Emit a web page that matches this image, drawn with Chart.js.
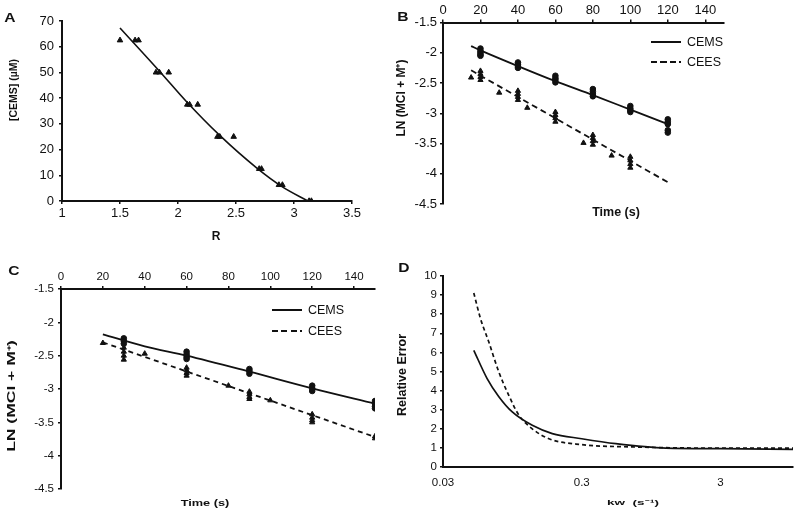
<!DOCTYPE html>
<html>
<head>
<meta charset="utf-8">
<script src="https://cdn.jsdelivr.net/npm/chart.js@4.4.1/dist/chart.umd.min.js"></script>
<style>
body{margin:0;background:#fff;}
#fig{position:relative;width:800px;height:511px;overflow:hidden;font-family:"Liberation Sans",Arial,sans-serif;color:#111;}
#fig canvas{position:absolute;}
.lbl{position:absolute;white-space:pre;line-height:1;}
.leg{position:absolute;height:2px;width:30px;}
.solid{background:#111;}
.dash{background:repeating-linear-gradient(to right,#111 0 6px,transparent 6px 9.5px);}
</style>
</head>
<body>
<div id="fig">
  <canvas id="cA" width="400" height="255" style="left:0;top:0"></canvas>
  <canvas id="cB" width="400" height="255" style="left:400px;top:0"></canvas>
  <canvas id="cC" width="400" height="256" style="left:0;top:255px"></canvas>
  <canvas id="cD" width="400" height="256" style="left:400px;top:255px"></canvas>
</div>
<script>
// ---- panel A : calibration, [CEMS] vs R
const aR       = [1.50,1.63,1.66,1.81,1.84,1.92,2.08,2.10,2.17,2.34,2.36,2.48,2.70,2.72,2.87,2.90,3.13,3.15];
const aConc    = [62.5,62.5,62.5,50,50,50,37.5,37.5,37.5,25,25,25,12.5,12.5,6.25,6.25,0,0];
const aFitR    = [1.50,1.85,2.07,2.36,2.68,2.90,3.12];
const aFitConc = [67.3,50.0,38.8,25.5,12.8,5.5,0];

// ---- panel B : LN vs time
const bCemsT = [20,20,20,20,20, 40,40,40,40, 60,60,60,60, 80,80,80,80, 100,100,100,100, 120,120,120,120,120];
const bCemsY = [-1.93,-1.97,-2.00,-2.03,-2.05, -2.16,-2.19,-2.22,-2.25, -2.38,-2.42,-2.45,-2.49,
                -2.60,-2.64,-2.68,-2.72, -2.88,-2.92,-2.95,-2.98, -3.10,-3.14,-3.18,-3.28,-3.32];
const bCeesT = [15, 20,20,20,20, 30, 40,40,40,40, 45, 60,60,60,60, 75, 80,80,80,80, 90, 100,100,100,100];
const bCeesY = [-2.41, -2.30,-2.35,-2.40,-2.45, -2.66, -2.63,-2.68,-2.73,-2.78, -2.91, -2.98,-3.03,-3.08,-3.14,
                -3.49, -3.36,-3.41,-3.46,-3.52, -3.70, -3.72,-3.78,-3.84,-3.90];
const bCemsFitT = [15,20,40,60,80,100,120];
const bCemsFitY = [-1.89,-1.96,-2.22,-2.47,-2.70,-2.94,-3.18];
const bCeesFitT = [15,120];
const bCeesFitY = [-2.29,-4.14];

// ---- panel C : LN vs time
const cCemsT = [30,30,30, 60,60,60,60, 90,90,90, 120,120,120, 150,150,150,150];
const cCemsY = [-2.24,-2.28,-2.32, -2.44,-2.48,-2.52,-2.55, -2.70,-2.73,-2.77, -2.95,-2.99,-3.03, -3.18,-3.22,-3.26,-3.29];
const cCeesT = [20, 30,30,30,30, 40, 60,60,60,60, 80, 90,90,90,90, 100, 120,120,120,120, 150,150];
const cCeesY = [-2.31, -2.38,-2.44,-2.50,-2.56, -2.47, -2.68,-2.72,-2.76,-2.80, -2.95, -3.04,-3.08,-3.12,-3.15,
                -3.17, -3.38,-3.43,-3.47,-3.50, -3.71,-3.74];
const cCemsFitT = [20,40,60,90,120,150];
const cCemsFitY = [-2.18,-2.36,-2.50,-2.74,-2.99,-3.22];
const cCeesFitT = [20,150];
const cCeesFitY = [-2.30,-3.72];

// ---- panel D : relative error vs kw
const dKwSolid  = [0.05,0.0624,0.0758,0.0947,0.132,0.184,0.3,0.528,1.21,3,10];
const dErrSolid = [6.11,4.63,3.68,2.88,2.18,1.75,1.48,1.22,0.99,0.96,0.92];
const dKwDash   = [0.05,0.0559,0.0642,0.0758,0.0894,0.106,0.132,0.174,0.3,0.7,3,10];
const dErrDash  = [9.11,7.77,6.54,4.97,3.75,2.70,2.00,1.48,1.17,1.05,0.99,0.99];
const dTicks    = [0.03,0.3,3];

const INK = "#111";
Chart.defaults.color = INK;
Chart.defaults.font.family = '"Liberation Sans", Arial, sans-serif';

const zip = (xs, ys) => xs.map((x,i)=>({x, y:ys[i]}));
const fit = (px) => (s) => { if(s.isHorizontal()) s.height = px; else s.width = px; };
const plain = (v) => String(+Number(v).toFixed(3));

function axis(o){
  return {
    type: o.type || "linear", position: o.pos, min: o.min, max: o.max,
    afterFit: fit(o.size),
    border: { display:true, color:INK, width:o.bw || 2 },
    grid: { display: o.tick !== 0, drawOnChartArea:false, drawTicks: o.tick !== 0,
            tickLength: o.tick || 3, color:INK, lineWidth:1.5 },
    ticks: { font:{size:o.fs || 13}, padding:o.pad ?? 3, stepSize:o.step, callback:plain,
             includeBounds:false, maxRotation:0, autoSkip:false },
    afterBuildTicks: o.afterBuildTicks
  };
}
function pts(data, style, r){
  return { data, showLine:false, pointStyle:style, pointRadius:r, pointHoverRadius:r,
           backgroundColor:INK, borderColor:INK, borderWidth:1 };
}
function line(data, dash, w){
  return { data, showLine:true, pointRadius:0, borderColor:INK, borderWidth:w || 1.7,
           borderDash:dash || [], cubicInterpolationMode:"monotone", fill:false };
}
function panel(id, padding, x, y, datasets){
  return new Chart(document.getElementById(id), {
    type:"scatter",
    data:{ datasets },
    options:{
      responsive:false, animation:false, events:[],
      layout:{ padding },
      plugins:{ legend:{display:false}, tooltip:{enabled:false} },
      scales:{ x, y }
    }
  });
}

panel("cA", {left:0, top:21, right:48, bottom:0},
  axis({pos:"bottom", min:1, max:3.5, step:0.5, size:54, pad:2}),
  axis({pos:"left", min:0, max:70, step:10, size:62, pad:5}),
  [ line(zip(aFitR, aFitConc), [], 1.6), pts(zip(aR, aConc), "triangle", 3.2) ]);

panel("cB", {left:0, top:0, right:76, bottom:51},
  axis({pos:"top", min:0, max:150, step:20, size:22.5, pad:1}),
  axis({pos:"left", min:-4.5, max:-1.5, step:0.5, size:43, pad:3}),
  [ line(zip(bCemsFitT, bCemsFitY), [], 1.8), line(zip(bCeesFitT, bCeesFitY), [6,4], 1.8),
    pts(zip(bCemsT, bCemsY), "circle", 2.8), pts(zip(bCeesT, bCeesY), "triangle", 3) ]);

panel("cC", {left:0, top:0, right:25, bottom:22},
  axis({pos:"top", min:0, max:150, step:20, size:34, pad:2, fs:11.5}),
  axis({pos:"left", min:-4.5, max:-1.5, step:0.5, size:61, pad:4, fs:11.5}),
  [ line(zip(cCemsFitT, cCemsFitY), [], 1.8), line(zip(cCeesFitT, cCeesFitY), [5,4], 1.8),
    pts(zip(cCemsT, cCemsY), "circle", 2.8), pts(zip(cCeesT, cCeesY), "triangle", 3) ]);

panel("cD", {left:0, top:21, right:7, bottom:0},
  axis({type:"logarithmic", pos:"bottom", min:0.03, max:10, size:44, pad:9, tick:0, fs:11.5,
        afterBuildTicks:(s)=>{ s.ticks = dTicks.map(v=>({value:v})); }}),
  axis({pos:"left", min:0, max:10, step:1, size:43, pad:3, fs:11.5}),
  [ line(zip(dKwSolid, dErrSolid), [], 1.7), line(zip(dKwDash, dErrDash), [4,3], 1.7) ]);

// ---- text: panel letters, axis titles, legends
const fig = document.getElementById("fig");
function label(text, cx, cy, size, opt){
  opt = opt || {};
  const d = document.createElement("div");
  d.className = "lbl"; d.textContent = text;
  d.style.left = cx + "px"; d.style.top = cy + "px";
  d.style.fontSize = size + "px";
  d.style.fontWeight = opt.normal ? "normal" : "bold";
  const rot = opt.rot ? ` rotate(${opt.rot}deg)` : "";
  d.style.transform = `translate(-50%,-50%)${rot} scale(${opt.sx || 1},1)`;
  if(opt.left){ d.style.transform = "translate(0,-50%)"; }
  fig.appendChild(d);
}
function legendRow(cls, x, y, text){
  const l = document.createElement("div");
  l.className = "leg " + cls; l.style.left = x + "px"; l.style.top = (y - 1) + "px";
  fig.appendChild(l);
  label(text, x + 36, y, 12.5, {normal:true, left:true});
}

label("A", 10, 17, 13, {sx:1.2});
label("B", 403, 16, 13, {sx:1.2});
label("C", 14, 270, 13, {sx:1.2});
label("D", 404, 267, 13, {sx:1.2});

label("[CEMS] (µM)", 13, 90, 10.5, {rot:-90});
label("R", 216, 236, 12);
label("LN (MCl + M\u207A)", 401, 98, 12, {rot:-90});
label("Time (s)", 616, 212, 12.5);
label("LN (MCl + M\u207A)", 12, 396, 10, {rot:-90, sx:1.75});
label("Time (s)", 205, 503, 8.5, {sx:1.5});
label("Relative Error", 402, 375, 12.5, {rot:-90});
label("kw  (s\u207B\u00B9)", 633, 503, 7.5, {sx:1.8});

legendRow("solid", 651, 42, "CEMS");
legendRow("dash", 651, 62, "CEES");
legendRow("solid", 272, 310, "CEMS");
legendRow("dash", 272, 331, "CEES");
</script>
</body>
</html>
